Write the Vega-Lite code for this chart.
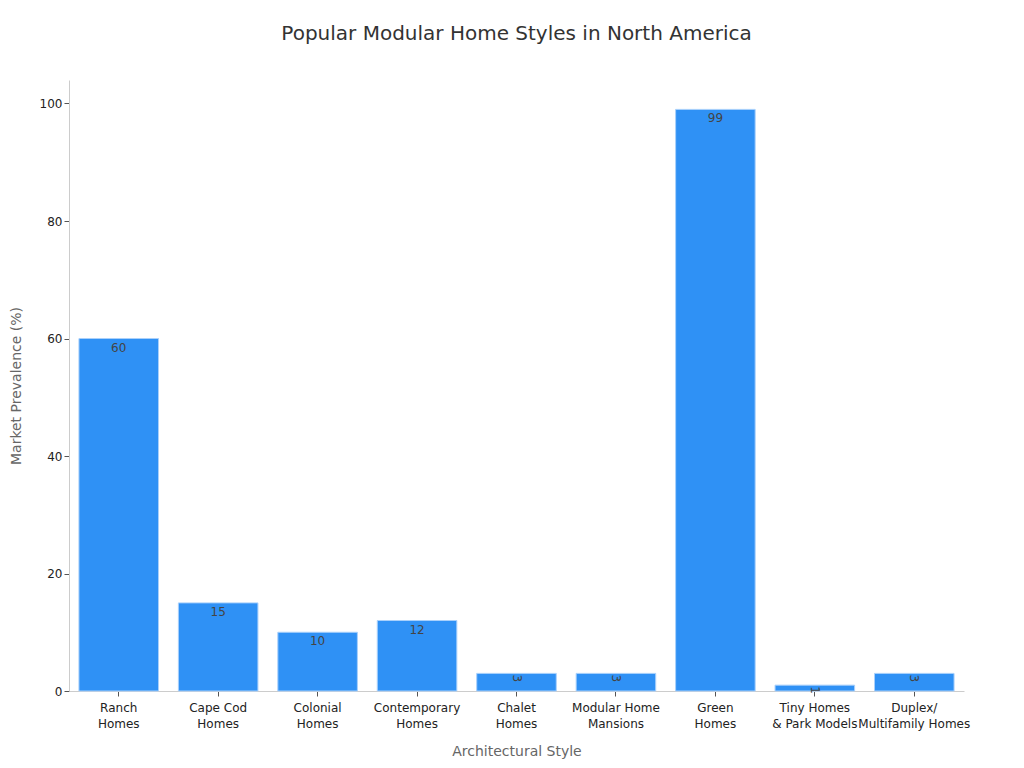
{
  "$schema": "https://vega.github.io/schema/vega-lite/v6.json",
  "autosize": "none",
  "width": 895,
  "height": 611,
  "padding": {"left": 69, "top": 80, "right": 60, "bottom": 77},
  "background": "white",
  "title": {"text": "Popular Modular Home Styles in North America", "fontSize": 20, "font": "DejaVu Sans", "fontWeight": "normal", "color": "#333333", "offset": 36},
  "config": {"view": {"stroke": null}, "font": "DejaVu Sans"},
  "data": {"values": [
    {"style": "Ranch\nHomes", "value": 60},
    {"style": "Cape Cod\nHomes", "value": 15},
    {"style": "Colonial\nHomes", "value": 10},
    {"style": "Contemporary\nHomes", "value": 12},
    {"style": "Chalet\nHomes", "value": 3},
    {"style": "Modular Home\nMansions", "value": 3},
    {"style": "Green\nHomes", "value": 99},
    {"style": "Tiny Homes\n& Park Models", "value": 1},
    {"style": "Duplex/\nMultifamily Homes", "value": 3}
  ]},
  "encoding": {
    "x": {"field": "style", "type": "nominal", "sort": null,
      "scale": {"paddingInner": 0.2, "paddingOuter": 0.1},
      "axis": {"title": "Architectural Style", "labelAngle": 0, "labelExpr": "split(datum.label, '\\n')",
        "labelFontSize": 12, "labelColor": "#222222", "titleFontSize": 14, "titleColor": "#666666", "titleFontWeight": "normal",
        "titlePadding": 15, "domainColor": "#cccccc", "tickColor": "#555555", "tickSize": 5, "labelPadding": 6, "labelLineHeight": 16}},
    "y": {"field": "value", "type": "quantitative",
      "scale": {"domain": [0, 104], "nice": false},
      "axis": {"title": "Market Prevalence (%)", "grid": false, "values": [0, 20, 40, 60, 80, 100],
        "labelFontSize": 12, "labelColor": "#222222", "titleFontSize": 14, "titleColor": "#666666", "titleFontWeight": "normal",
        "titlePadding": 16, "domainColor": "#cccccc", "tickColor": "#555555", "tickSize": 5}}
  },
  "layer": [
    {"mark": {"type": "bar", "color": "#2f91f5", "stroke": "#a9d0fb", "strokeWidth": 1}},
    {"transform": [{"filter": "datum.value >= 5"}],
      "mark": {"type": "text", "baseline": "top", "dy": 4, "fontSize": 12, "color": "#444444", "font": "DejaVu Sans"},
      "encoding": {"text": {"field": "value", "type": "quantitative"}}},
    {"transform": [{"filter": "datum.value < 5"}],
      "mark": {"type": "text", "baseline": "middle", "align": "center", "angle": 90, "fontSize": 12, "color": "#444444", "font": "DejaVu Sans"},
      "encoding": {"text": {"field": "value", "type": "quantitative"}, "yOffset": {"value": 5}}}
  ]
}
